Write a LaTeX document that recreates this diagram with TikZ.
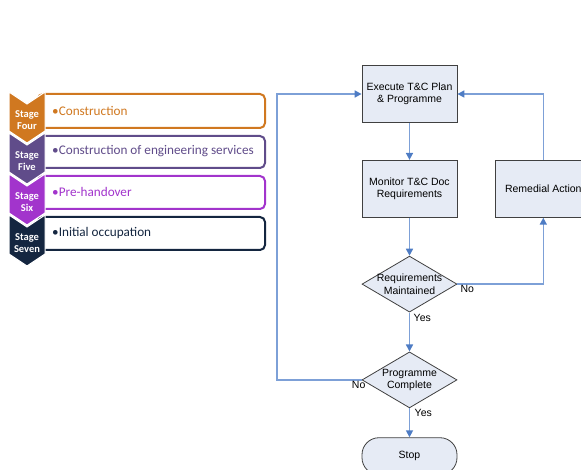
\documentclass[tikz,border=0pt]{standalone}
\usepackage{fontspec}
\usepackage{xcolor}
\usepackage{tikz}
\usetikzlibrary{positioning, arrows.meta, shapes.geometric}
\newfontfamily\flowfont{Liberation Sans}
\newfontfamily\stagefont{Carlito}
\definecolor{fourcol}{RGB}{208,120,32}
\definecolor{fivecol}{RGB}{96,76,138}
\definecolor{sixcol}{RGB}{162,52,204}
\definecolor{sevencol}{RGB}{20,38,64}
\definecolor{flowline}{RGB}{125,160,215}
\definecolor{flowtip}{RGB}{78,124,196}
\definecolor{flowfill}{RGB}{230,235,245}
\definecolor{flowdraw}{RGB}{64,64,64}
\tikzset{
    chev/.style={draw=white, line width=1pt},
    chevtext/.style={font=\stagefont\fontsize{10.5}{11.5}\selectfont\bfseries, text=white, align=center, inner sep=0pt},
    stagebox/.style={draw=#1, line width=2pt, fill=white, rounded corners=5pt},
    stagetext/.style={font=\stagefont\fontsize{13.2}{15}\selectfont, text=#1, anchor=west, inner sep=0pt},
    process/.style={rectangle, draw=flowdraw, line width=0.8pt, fill=flowfill, align=center, minimum width=95pt, minimum height=57pt, inner sep=1pt, font=\flowfont\fontsize{10.5}{12.5}\selectfont},
    decision/.style={diamond, draw=flowdraw, line width=0.8pt, fill=flowfill, minimum width=95pt, minimum height=56pt, inner sep=0pt, label={[align=center, font=\flowfont\fontsize{10.5}{12.5}\selectfont]center:#1}},
    term/.style={rectangle, draw=flowdraw, line width=0.8pt, fill=flowfill, rounded corners=17pt, minimum width=95pt, minimum height=37pt, font=\flowfont\fontsize{10.5}{12.5}\selectfont},
    arrow/.style={-{Triangle[length=7pt, width=7pt, color=flowtip]}, draw=flowline, line width=1.6pt},
    flowlbl/.style={font=\flowfont\fontsize{10.5}{12.5}\selectfont, inner sep=0pt}
}
\begin{document}
\begin{tikzpicture}[x=1pt, y=-1pt]
    \useasboundingbox (0,0) rectangle (581,470);

    % --- STAGES ---
    \draw[stagebox=fourcol] (38,94) rectangle (265,128);
    \draw[stagebox=fivecol] (38,136) rectangle (265,168);
    \draw[stagebox=sixcol] (38,176) rectangle (265,209);
    \draw[stagebox=sevencol] (38,217) rectangle (265,250);

    \filldraw[chev, fill=fourcol] (9,92) -- (27,104) -- (45,92) -- (45,131) -- (27,143) -- (9,131) -- cycle;
    \filldraw[chev, fill=fivecol] (9,133) -- (27,145) -- (45,133) -- (45,172) -- (27,184) -- (9,172) -- cycle;
    \filldraw[chev, fill=sixcol] (9,174) -- (27,186) -- (45,174) -- (45,213) -- (27,225) -- (9,213) -- cycle;
    \filldraw[chev, fill=sevencol] (9,215) -- (27,227) -- (45,215) -- (45,254) -- (27,266) -- (9,254) -- cycle;

    \node[chevtext] (S4) at (27,120) {Stage\\Four};
    \node[chevtext] (S5) at (27,161) {Stage\\Five};
    \node[chevtext] (S6) at (27,202) {Stage\\Six};
    \node[chevtext] (S7) at (27,243) {Stage\\Seven};

    \node[stagetext=fourcol] (T4) at (52,111) {\textbullet Construction};
    \node[stagetext=fivecol] (T5) at (52,151.5) {\textbullet Construction of engineering services};
    \node[stagetext=sixcol] (T6) at (52,192) {\textbullet Pre-handover};
    \node[stagetext=sevencol] (T7) at (52,233) {\textbullet Initial occupation};

    % --- FLOWCHART ---
    \node[process] (exec) at (409.5,94) {Execute T\&C Plan\\\& Programme};
    \node[process, below=37pt of exec] (mon) {Monitor T\&C Doc\\Requirements};
    \node[process, right=38pt of mon] (rem) {Remedial Action};
    \node[decision={Requirements\\Maintained}, below=38pt of mon] (req) {};
    \node[decision={Programme\\Complete}, below=39pt of req] (prog) {};
    \node[term, below=29pt of prog] (stop) {Stop};

    \coordinate (loopL) at (277,0);

    \draw[arrow] (exec) -- (mon);
    \draw[arrow] (mon) -- (req);
    \draw[arrow] (req) -- (prog);
    \draw[arrow] (prog) -- (stop);
    \draw[arrow] (req.east) -| (rem.south);
    \draw[arrow] (rem.north) |- (exec.east);
    \draw[arrow] (prog.west) -- (loopL |- prog.west) |- (exec.west);

    % Labels
    \node[flowlbl, below right=2pt and 4pt of req.south] (yes1) {Yes};
    \node[flowlbl, below right=1pt and 3pt of req.east] (no1) {No};
    \node[flowlbl, below right=1pt and 5pt of prog.south] (yes2) {Yes};
    \node[flowlbl, below left=1pt and -4pt of prog.west] (no2) {No};
\end{tikzpicture}
\end{document}
